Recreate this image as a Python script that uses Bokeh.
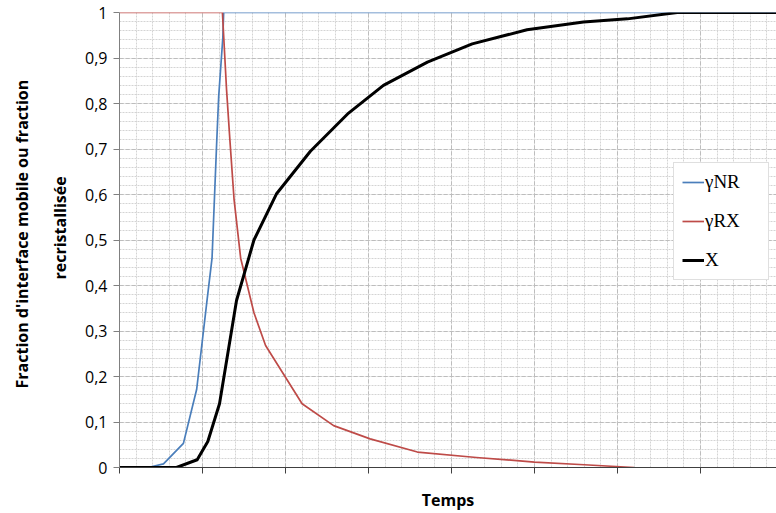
from bokeh.plotting import figure
from bokeh.models import (FixedTicker, Range1d, Legend, LegendItem, Title)
from bokeh.embed import file_html
from bokeh.resources import INLINE

# Time axis in arbitrary units (major graduation = 1 unit)
temps_nr = [0, 0.37, 0.53, 0.77, 0.93, 1.05, 1.115, 1.17, 1.195, 1.245, 1.255, 7.92]
gamma_nr = [0, 0.001, 0.008, 0.053, 0.172, 0.36, 0.46, 0.71, 0.815, 0.945, 1.0, 1.0]

temps_rx = [0, 1.24, 1.29, 1.33, 1.38, 1.46, 1.62, 1.76, 2.2, 2.58, 3.02, 3.59, 4.3, 5.0, 5.6, 6.2]
gamma_rx = [1, 1, 0.83, 0.72, 0.59, 0.46, 0.34, 0.268, 0.14, 0.092, 0.063, 0.034, 0.022, 0.012, 0.006, 0.0]

temps_x = [0, 0.687, 0.936, 1.064, 1.205, 1.41, 1.62, 1.89, 2.30, 2.76, 3.18, 3.71, 4.25,
           4.91, 5.59, 6.12, 6.72, 7.92]
frac_x = [0, 0, 0.017, 0.057, 0.14, 0.367, 0.50, 0.601, 0.695, 0.779, 0.840, 0.891, 0.931,
          0.962, 0.979, 0.986, 1.0, 1.0]

series_names = ["γNR", "γRX", "X"]
series_colors = ["#4A7EBB", "#BE4B48", "#000000"]
series_widths = [1.7, 1.7, 3]

y_ticks = [0, 0.1, 0.2, 0.3, 0.4, 0.5, 0.6, 0.7, 0.8, 0.9, 1]
y_tick_labels = ["0", "0,1", "0,2", "0,3", "0,4", "0,5", "0,6", "0,7", "0,8", "0,9", "1"]
y_minor = [i / 50 for i in range(51)]
x_ticks = [0, 1, 2, 3, 4, 5, 6, 7]
x_minor = [i / 5 for i in range(40)]

x_title = "Temps"
y_title_lines = ["Fraction d'interface mobile ou fraction", "recristallisée"]

FONT = "Open Sans"

p = figure(width=776, height=513, output_backend="svg", toolbar_location=None,
           x_range=Range1d(0, 7.916), y_range=Range1d(0, 1),
           min_border_left=119, min_border_right=0, min_border_top=12, min_border_bottom=46)
p.outline_line_color = None
p.background_fill_color = "white"
p.border_fill_color = "white"

# grids: dashed major lines, dotted minor lines
p.xgrid[0].ticker = FixedTicker(ticks=x_ticks, minor_ticks=x_minor)
p.ygrid[0].ticker = FixedTicker(ticks=y_ticks, minor_ticks=y_minor)
for g in (p.xgrid[0], p.ygrid[0]):
    g.grid_line_color = "#bdbdbd"
    g.grid_line_dash = "4 2"
    g.grid_line_width = 1
    g.minor_grid_line_color = "#d4d4d4"
    g.minor_grid_line_dash = "2 1"
    g.minor_grid_line_width = 1

# time axis: unlabelled graduation marks only
p.xaxis.ticker = FixedTicker(ticks=[], minor_ticks=x_ticks)
p.xaxis.major_tick_in = 0
p.xaxis.major_tick_out = 6
p.xaxis.minor_tick_in = 0
p.xaxis.minor_tick_out = 6
p.xaxis.minor_tick_line_color = "#404040"
p.xaxis.axis_line_color = "#404040"
p.xaxis.axis_label = x_title
p.xaxis.axis_label_text_font = FONT
p.xaxis.axis_label_text_font_style = "bold"
p.xaxis.axis_label_text_font_size = "16px"
p.xaxis.axis_label_text_color = "black"
p.xaxis.axis_label_standoff = 15

p.yaxis.ticker = FixedTicker(ticks=y_ticks)
p.yaxis.major_label_overrides = dict(zip(y_ticks, y_tick_labels))
p.yaxis.major_label_text_font = FONT
p.yaxis.major_label_text_font_size = "16px"
p.yaxis.major_label_text_color = "black"
p.yaxis.major_label_standoff = 6
p.yaxis.major_tick_in = 0
p.yaxis.major_tick_out = 6
p.yaxis.minor_tick_line_color = None
p.yaxis.axis_line_color = "#808080"
p.yaxis.major_tick_line_color = "#808080"

# two-line vertical title, inner line first; offset = distance from frame bottom
for text, gap, shift in ((y_title_lines[1], 24, 188), (y_title_lines[0], 3, 79)):
    p.add_layout(Title(text=text, align="left", offset=shift, text_font=FONT,
                       text_font_style="bold", text_font_size="16px",
                       text_color="black", standoff=gap), "left")

# curves
xs = [temps_nr, temps_rx, temps_x]
ys = [gamma_nr, gamma_rx, frac_x]
items = []
for name, color, w, xv, yv in zip(series_names, series_colors, series_widths, xs, ys):
    r = p.line(xv, yv, line_color=color, line_width=w, line_join="round")
    items.append(LegendItem(label=name, renderers=[r]))

legend = Legend(items=items, location=(554, 187), orientation="vertical",
                label_text_font="Liberation Serif", label_text_font_size="19px",
                label_text_color="black", glyph_width=22, glyph_height=22,
                label_height=22, label_width=55, label_standoff=1,
                spacing=17, padding=8, margin=0,
                border_line_color="#bfbfbf", border_line_width=1.5,
                background_fill_color="white", background_fill_alpha=1)
p.add_layout(legend, "center")

open("out.html", "w").write(file_html(p, INLINE))
